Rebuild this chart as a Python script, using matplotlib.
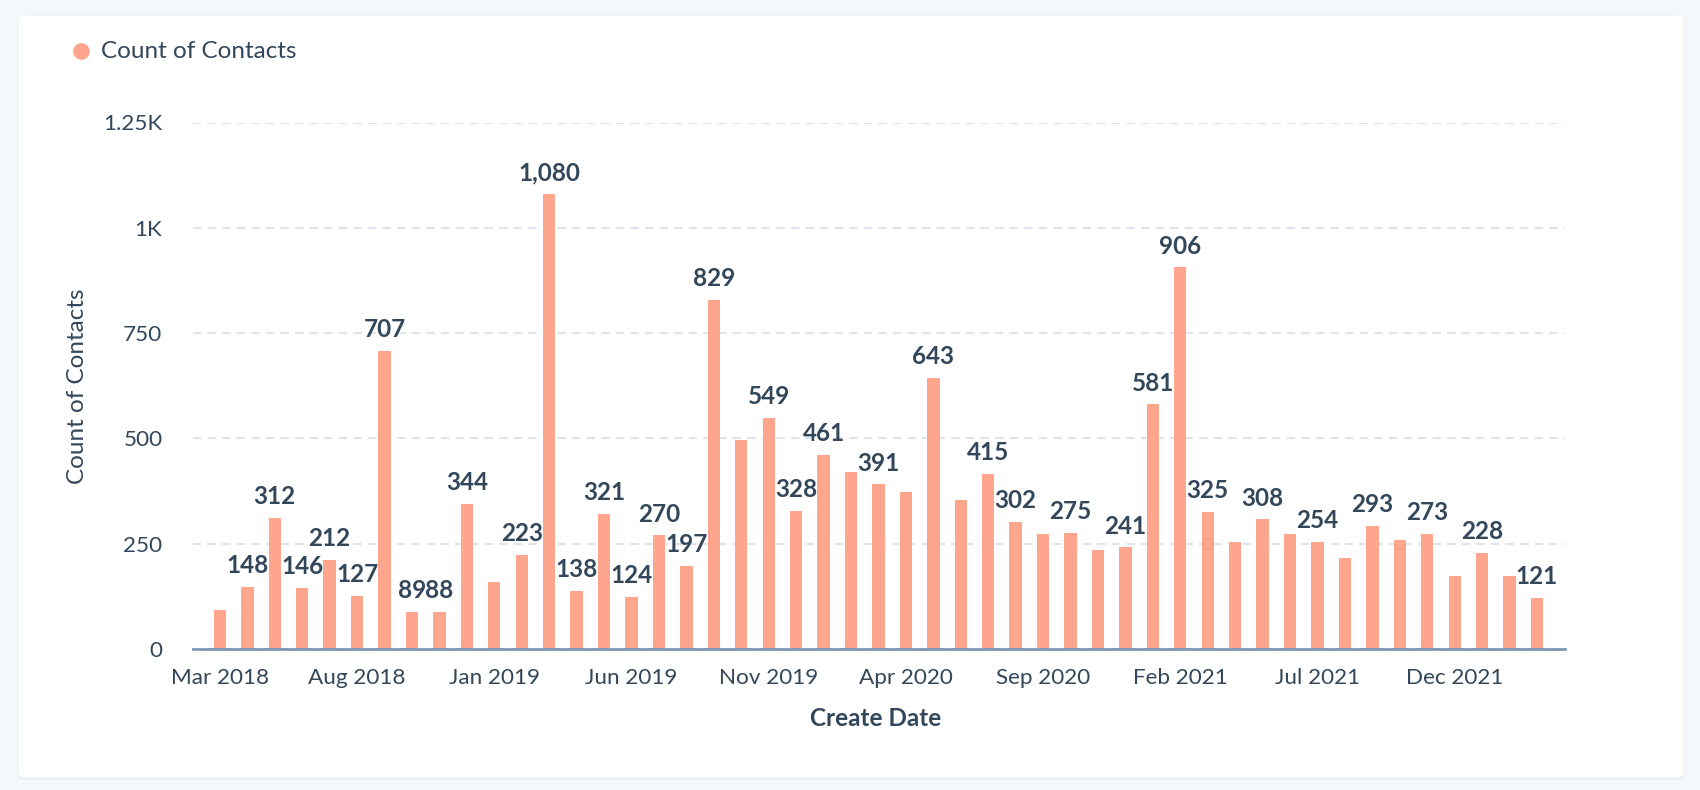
"""Monthly count of contacts by create date (HubSpot-style bar chart)."""
import matplotlib
matplotlib.use("Agg")
import matplotlib.pyplot as plt
from matplotlib.patches import FancyBboxPatch
from matplotlib.lines import Line2D
import pandas as pd

MONTHS = pd.date_range("2018-03-01", "2022-03-01", freq="MS")
COUNTS = [93, 148, 312, 146, 212, 127, 707, 89, 88, 344,
          159, 223, 1080, 138, 321, 124, 270, 197, 829, 497,
          549, 328, 461, 420, 391, 373, 643, 354, 415, 302,
          273, 275, 235, 241, 581, 906, 325, 254, 308, 273,
          254, 216, 293, 258, 273, 173, 228, 173, 121]
# bars whose value label is hidden in the original (no room)
UNLABELED = [0, 10, 19, 23, 25, 27, 30, 32, 37, 39, 41, 43, 45, 47]
Y_TICKS = [0, 250, 500, 750, 1000, 1250]
Y_TICK_LABELS = ["0", "250", "500", "750", "1K", "1.25K"]
TICK_EVERY = 5

BAR = "#fea58e"
INK = "#33475b"
GRID = "#dfe3eb"
AXIS = "#7c98b6"
FONT = ["Lato", "DejaVu Sans"]
plt.rcParams["font.family"] = FONT
FS = 17.5

W, H = 1700, 790
fig = plt.figure(figsize=(W / 100, H / 100), dpi=100, facecolor="#f5f8fa")
# faint shadow under the card, then the card itself
fig.patches.append(FancyBboxPatch((18 / W, 1 - 780 / H), 1666 / W, 763 / H,
                                  boxstyle="round,pad=0,rounding_size=0.005",
                                  transform=fig.transFigure, facecolor="#e9eef3",
                                  edgecolor="none", zorder=-6))
fig.patches.append(FancyBboxPatch((18 / W, 1 - 778 / H), 1666 / W, 763 / H,
                                  boxstyle="round,pad=0,rounding_size=0.005",
                                  transform=fig.transFigure, facecolor="white",
                                  edgecolor="#eef2f6", lw=1, zorder=-5))

left, right, bottom, top = 193, 1565, 649, 122.5
ax = fig.add_axes([left / W, 1 - bottom / H, (right - left) / W, (bottom - top) / H])
ax.set_facecolor("none")

x = list(range(len(COUNTS)))
bars = ax.bar(x, COUNTS, width=0.45, color=BAR, zorder=3)
for i, (b, v) in enumerate(zip(bars, COUNTS)):
    if i in UNLABELED:
        continue
    ax.annotate(f"{v:,}", (b.get_x() + b.get_width() / 2, v), xytext=(0, 7),
                textcoords="offset points", ha="center", va="bottom",
                fontsize=FS, fontweight="bold", color=INK, zorder=4)

ax.set_xlim(-0.98, len(COUNTS) + 0.02)
ax.set_ylim(0, 1250)
ax.set_yticks(Y_TICKS, Y_TICK_LABELS)
ax.set_xticks(x[::TICK_EVERY], [m.strftime("%b %Y") for m in MONTHS[::TICK_EVERY]])
ax.tick_params(axis="both", length=0, labelsize=16.2, labelcolor=INK)
ax.tick_params(axis="y", pad=22)
ax.tick_params(axis="x", pad=14)

ax.yaxis.grid(True, color=GRID, linestyle=(0, (4, 3)), linewidth=1.5, zorder=1)
for s in ("top", "right", "left"):
    ax.spines[s].set_visible(False)
ax.spines["bottom"].set_color(AXIS)
ax.spines["bottom"].set_linewidth(2)
ax.spines["bottom"].set_zorder(5)

ax.set_ylabel("Count of Contacts", fontsize=FS, color=INK)
ax.yaxis.set_label_coords((78 - left) / (right - left), 0.5)
ax.yaxis.label.set_va("center")
ax.set_xlabel("Create Date", fontsize=FS, fontweight="bold", color=INK)
ax.xaxis.set_label_coords((876 - left) / (right - left), (bottom - 718) / (bottom - top))
ax.xaxis.label.set_va("center")

# legend: dot + label in the card's top-left corner
fig.add_artist(Line2D([81 / W], [1 - 51 / H], marker="o", linestyle="None",
                      markersize=11, markerfacecolor=BAR, markeredgecolor=BAR,
                      transform=fig.transFigure))
fig.text(101 / W, 1 - 51 / H, "Count of Contacts", fontsize=FS, color=INK,
         ha="left", va="center")

fig.savefig("out.png", dpi=100, facecolor=fig.get_facecolor())
